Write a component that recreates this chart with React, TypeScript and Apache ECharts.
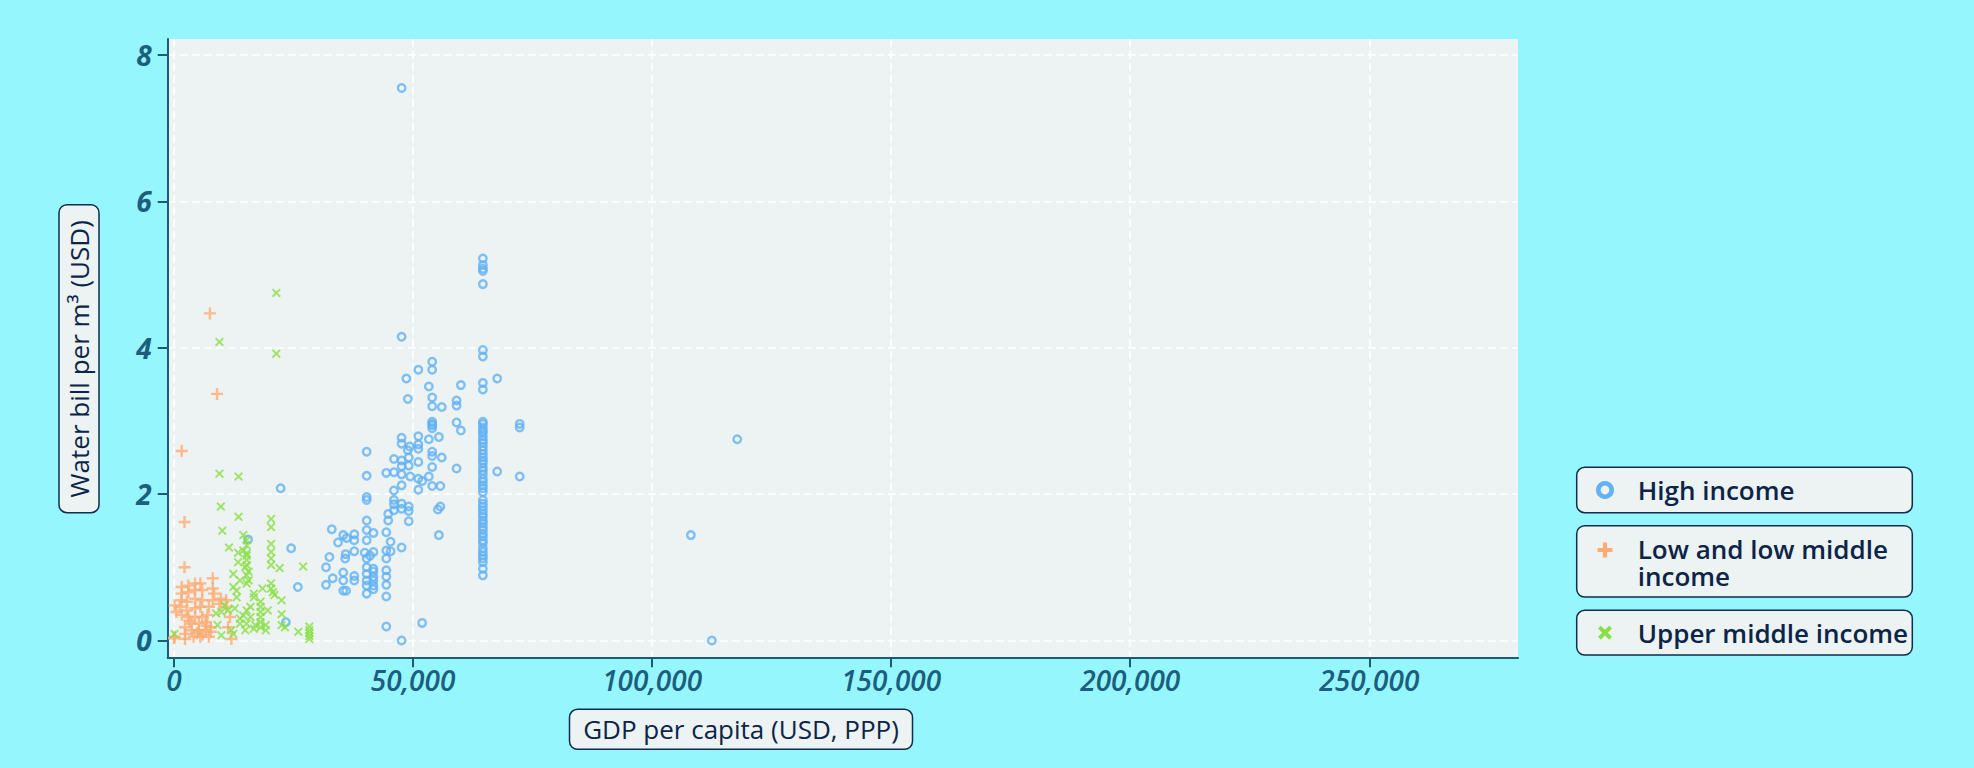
import React, { useEffect, useRef } from 'react';
import * as echarts from 'echarts';

// ---------- data ----------
const seriesNames = ['High income', 'Low and low middle income', 'Upper middle income'];
const legendLabels = ['High income', 'Low and low middle\nincome', 'Upper middle income'];
const xTicks = [0, 50000, 100000, 150000, 200000, 250000];
const yTicks = [0, 2, 4, 6, 8];
const xTitle = 'GDP per capita (USD, PPP)';
const yTitle = 'Water bill per m³ (USD)';

// [GDP per capita (USD, PPP), water bill per m³ (USD)]
const highIncome: [number, number][] = [
  [47600, 7.55], [64600, 5.22], [64600, 5.13], [64600, 5.08], [64600, 5.05], [64600, 4.87], [47600, 4.15],
  [64600, 3.97], [64600, 3.88], [54000, 3.81], [51100, 3.7], [54000, 3.7], [48600, 3.58], [67600, 3.58],
  [53300, 3.47], [60000, 3.49], [64600, 3.52], [64600, 3.43], [48900, 3.3], [54000, 3.32], [59100, 3.28],
  [59100, 3.21], [54000, 3.2], [56000, 3.19],
  [54000, 2.99], [54000, 2.96], [54000, 2.94], [54000, 2.9], [59100, 2.98], [60000, 2.87], [72300, 2.96], [72300, 2.91],
  [47600, 2.77], [47600, 2.69], [51100, 2.79], [55400, 2.78], [53300, 2.75], [49300, 2.65], [51100, 2.68],
  [51100, 2.62], [48900, 2.6], [40300, 2.58], [54000, 2.58], [54000, 2.52], [56000, 2.5], [46000, 2.48],
  [47600, 2.46], [49100, 2.5], [51100, 2.44], [47600, 2.38], [49100, 2.39], [54000, 2.37], [59100, 2.35],
  [67600, 2.31], [44400, 2.29], [46000, 2.3], [47600, 2.27], [49400, 2.24], [51100, 2.21], [40300, 2.25],
  [53300, 2.24], [51900, 2.18], [72300, 2.24], [55700, 2.11], [54000, 2.11], [47600, 2.12], [51100, 2.06],
  [46000, 2.05], [22300, 2.08],
  [40300, 1.96], [40300, 1.92], [46000, 1.92], [46000, 1.86], [47600, 1.87], [49100, 1.83], [49100, 1.77],
  [47600, 1.8], [46000, 1.78], [55700, 1.83], [55200, 1.79], [44800, 1.73], [40300, 1.64], [44800, 1.64], [49100, 1.63],
  [33000, 1.52], [35400, 1.44], [37700, 1.45], [40300, 1.51], [41700, 1.47], [44400, 1.48], [34300, 1.34],
  [36100, 1.4], [37700, 1.37], [40300, 1.37], [45300, 1.35], [55400, 1.44], [24500, 1.26], [37700, 1.22],
  [47600, 1.27], [35900, 1.18], [39900, 1.2], [41700, 1.21], [44400, 1.23], [45300, 1.22], [32500, 1.14],
  [35800, 1.12], [40300, 1.12], [41000, 1.16], [44400, 1.12],
  [31800, 1.0], [40300, 1.0], [41700, 0.98], [41700, 0.94], [44400, 0.96], [35400, 0.93], [33200, 0.85],
  [35400, 0.82], [37700, 0.88], [37700, 0.82], [40300, 0.91], [40300, 0.82], [41700, 0.87], [41700, 0.82],
  [44400, 0.87], [41700, 0.75], [41700, 0.7], [31800, 0.76], [35400, 0.68], [36000, 0.68], [40300, 0.75],
  [40300, 0.64], [44400, 0.76], [44400, 0.6], [25900, 0.73], [15500, 1.38], [23400, 0.25], [44400, 0.19],
  [51900, 0.24], [47600, 0.0],
  [108100, 1.44], [112500, 0.0], [117800, 2.75],
  [64600, 2.99], [64600, 2.96], [64600, 2.91], [64600, 2.87], [64600, 2.84], [64600, 2.79], [64600, 2.74],
  [64600, 2.7], [64600, 2.65], [64600, 2.6], [64600, 2.55], [64600, 2.5], [64600, 2.46], [64600, 2.42],
  [64600, 2.36], [64600, 2.32], [64600, 2.27], [64600, 2.21], [64600, 2.17], [64600, 2.12], [64600, 2.08],
  [64600, 2.03], [64600, 1.92], [64600, 1.87], [64600, 1.83], [64600, 1.78], [64600, 1.73], [64600, 1.69],
  [64600, 1.64], [64600, 1.6], [64600, 1.55], [64600, 1.51], [64600, 1.46], [64600, 1.42], [64600, 1.37],
  [64600, 1.33], [64600, 1.26], [64600, 1.21], [64600, 1.16], [64600, 1.12], [64600, 1.07], [64600, 0.98],
  [64600, 0.89],
];

const lowIncome: [number, number][] = [
  [7500, 4.47], [9000, 3.37], [1600, 2.59], [2200, 1.62], [2200, 1.0], [8100, 0.85],
  [1600, 0.73], [3000, 0.75], [4400, 0.78], [5500, 0.78], [1600, 0.64], [3000, 0.66], [4400, 0.69],
  [5900, 0.69], [8100, 0.71], [8400, 0.64], [9800, 0.57], [10900, 0.55], [1600, 0.55], [2700, 0.53],
  [4400, 0.57], [5900, 0.55], [8100, 0.55], [9500, 0.5], [10900, 0.46], [130, 0.48], [1200, 0.46],
  [2700, 0.41], [4400, 0.44], [5500, 0.46], [7300, 0.46], [500, 0.39], [1600, 0.35], [3000, 0.32],
  [4400, 0.32], [5900, 0.32], [7000, 0.35], [11700, 0.32], [3700, 0.23], [5200, 0.23], [6600, 0.25],
  [7700, 0.18], [2300, 0.18], [3700, 0.14], [5200, 0.14], [6600, 0.14], [7700, 0.12], [2300, 0.09],
  [4100, 0.05], [5500, 0.05], [7300, 0.05], [2300, 0.02], [130, 0.05], [11300, 0.18], [12000, 0.02],
  [0, 0.03], [4800, 0.1], [6000, 0.08], [6800, 0.2], [3200, 0.27],
];

const upperMiddle: [number, number][] = [
  [21400, 4.75], [9500, 4.08], [21400, 3.92], [9500, 2.28], [13500, 2.24], [9800, 1.83], [13500, 1.69],
  [10100, 1.5], [20300, 1.66], [20300, 1.55], [11500, 1.27], [14500, 1.44], [15200, 1.37], [15200, 1.3],
  [20300, 1.32], [20300, 1.21], [20300, 1.12], [20300, 1.03], [22100, 0.99], [27000, 1.01], [14500, 1.23],
  [13400, 1.2], [15200, 1.19], [15200, 1.16], [15200, 1.1], [13400, 1.07], [15200, 1.03], [14900, 1.0],
  [15600, 0.94], [15200, 0.89], [12400, 0.91], [15600, 0.82], [13800, 0.82], [15200, 0.78], [12400, 0.73],
  [18500, 0.71], [20300, 0.78], [20300, 0.71], [20700, 0.66], [21000, 0.62], [13100, 0.68], [13100, 0.59],
  [16700, 0.64], [16700, 0.59], [22500, 0.55], [18100, 0.53], [18100, 0.46], [18100, 0.39], [18100, 0.32],
  [18100, 0.25], [18100, 0.18], [16000, 0.46], [15200, 0.41], [14500, 0.34], [16000, 0.32], [13800, 0.3],
  [19600, 0.41], [22500, 0.36], [22500, 0.21], [23200, 0.18], [16700, 0.16], [14900, 0.14], [19200, 0.14],
  [26000, 0.12], [28300, 0.19], [28300, 0.14], [28300, 0.1], [28300, 0.06], [28300, 0.02], [10600, 0.48],
  [9900, 0.39], [8800, 0.37], [11300, 0.41], [12700, 0.44], [13800, 0.23], [12000, 0.14], [12400, 0.09],
  [9100, 0.21], [9900, 0.07], [100, 0.09], [19200, 0.21], [17000, 0.21], [15200, 0.23],
];

// ---------- styles ----------
const BG = '#96F6FE';
const PLOT_BG = '#EDF2F2';
const AXIS = '#1A5C78';
const LABEL = '#1B5E7E';
const NAVY = '#0B2548';
const BOX_BORDER = '#0F2D4D';
const BLUE = '#62B2F4';
const ORANGE = '#FFAB73';
const GREEN = '#88E046';
const FONT = 'Open Sans';

const PLUS = 'path://M4,0H6V4H10V6H6V10H4V6H0V4H4Z';
const CROSS = 'path://M1.5,0L5,3.5L8.5,0L10,1.5L6.5,5L10,8.5L8.5,10L5,6.5L1.5,10L0,8.5L3.5,5L0,1.5Z';

// legend icon outlines (centred on 0)
const plusPts = (s: number, t: number) => {
  const a = s / 2, b = t / 2;
  return [[-b, -a], [b, -a], [b, -b], [a, -b], [a, b], [b, b], [b, a], [-b, a], [-b, b], [-a, b], [-a, -b], [-b, -b]];
};
const crossPts = (s: number, t: number) => {
  const a = s / 2, d = t / Math.SQRT2;
  return [[-a + d, -a], [0, -d], [a - d, -a], [a, -a + d], [d, 0], [a, a - d], [a - d, a], [0, d], [-a + d, a], [-a, a - d], [-d, 0], [-a, -a + d]];
};

export default function App() {
  const ref = useRef<HTMLDivElement>(null);

  useEffect(() => {
    if (!ref.current) return;
    const chart = echarts.init(ref.current, undefined, { renderer: 'svg' });

    const boxRect = (x: number, y: number, w: number, h: number) => ({
      type: 'rect',
      z: 0,
      shape: { x, y, width: w, height: h, r: 8 },
      style: { fill: PLOT_BG, stroke: BOX_BORDER, lineWidth: 1.5 },
    });

    const titleStyle = {
      fontSize: 26,
      fontFamily: FONT,
      fontWeight: 500,
      fill: NAVY,
      align: 'center',
      verticalAlign: 'middle',
      textAlign: 'center',
      textVerticalAlign: 'middle',
    };

    const LINE_H = 26.5;
    const legendText = (x: number, y: number, text: string) => ({
      type: 'text',
      z: 1,
      x,
      y,
      style: {
        text,
        fontSize: 26,
        lineHeight: LINE_H,
        fontFamily: FONT,
        fontWeight: 600,
        fill: NAVY,
        align: 'left',
        verticalAlign: 'top',
        textAlign: 'left',
        textVerticalAlign: 'top',
      },
    });

    const ICON_X = 1605;
    const TEXT_X = 1637.7;

    chart.setOption({
      animation: false,
      backgroundColor: BG,
      grid: {
        show: true,
        left: 167.7,
        top: 39,
        right: 1974 - 1518,
        bottom: 768 - 657.3,
        backgroundColor: PLOT_BG,
        borderWidth: 0,
        containLabel: false,
      },
      xAxis: {
        type: 'value',
        min: -1320,
        max: 281100,
        axisLine: { show: true, onZero: false, lineStyle: { color: AXIS, width: 2 } },
        axisTick: { show: true, length: 10, customValues: xTicks, lineStyle: { color: AXIS, width: 2 } },
        axisLabel: {
          customValues: xTicks,
          formatter: (v: number) => Number(v).toLocaleString('en-US'),
          margin: 9,
          fontSize: 28,
          fontStyle: 'italic',
          fontWeight: 600,
          fontFamily: FONT,
          color: LABEL,
        },
        splitLine: { show: true, lineStyle: { color: '#FFFFFF', type: [8, 4], width: 1.5 } },
      },
      yAxis: {
        type: 'value',
        min: -0.23,
        max: 8.22,
        axisLine: { show: true, onZero: false, lineStyle: { color: AXIS, width: 2 } },
        axisTick: { show: true, length: 10, customValues: yTicks, lineStyle: { color: AXIS, width: 2 } },
        axisLabel: {
          customValues: yTicks,
          formatter: (v: number) => String(v),
          margin: 16,
          fontSize: 28,
          fontStyle: 'italic',
          fontWeight: 'bold',
          fontFamily: FONT,
          color: LABEL,
        },
        splitLine: { show: true, lineStyle: { color: '#FFFFFF', type: [8, 4], width: 1.5 } },
      },
      graphic: [
        boxRect(59, 204.7, 40, 308),
        { type: 'text', z: 1, x: 79, y: 358.8, rotation: Math.PI / 2, style: { ...titleStyle, text: yTitle } },
        boxRect(569.5, 709.3, 343, 40),
        { type: 'text', z: 1, x: 741, y: 729.3, style: { ...titleStyle, text: xTitle } },
        // legend boxes
        boxRect(1576.7, 467.3, 335.6, 45.4),
        boxRect(1576.7, 525.7, 335.6, 71.3),
        boxRect(1576.7, 610.3, 335.6, 44.7),
        // legend icons
        {
          type: 'circle', z: 1, shape: { cx: ICON_X, cy: 490, r: 6.7 },
          style: { fill: 'none', stroke: BLUE, lineWidth: 4.6 },
        },
        {
          type: 'polygon', z: 1, x: ICON_X, y: 550, shape: { points: plusPts(15, 4.2) },
          style: { fill: ORANGE },
        },
        {
          type: 'polygon', z: 1, x: ICON_X, y: 632.7, shape: { points: crossPts(14, 4) },
          style: { fill: GREEN },
        },
        // legend texts
        legendText(TEXT_X, 490 - LINE_H / 2, legendLabels[0]),
        legendText(TEXT_X, 549 - LINE_H / 2, legendLabels[1]),
        legendText(TEXT_X, 632.7 - LINE_H / 2, legendLabels[2]),
      ],
      series: [
        {
          name: seriesNames[0],
          type: 'scatter',
          data: highIncome,
          symbol: 'circle',
          symbolSize: 7.5,
          itemStyle: { color: 'rgba(0,0,0,0)', borderColor: BLUE, borderWidth: 2.4 },
        },
        {
          name: seriesNames[1],
          type: 'scatter',
          data: lowIncome,
          symbol: PLUS,
          symbolSize: 12,
          itemStyle: { color: ORANGE },
        },
        {
          name: seriesNames[2],
          type: 'scatter',
          data: upperMiddle,
          symbol: CROSS,
          symbolSize: 9,
          itemStyle: { color: GREEN },
        },
      ],
    });

    return () => chart.dispose();
  }, []);

  return (
    <div
      ref={ref}
      style={{ position: 'fixed', left: 0, top: 0, width: 1974, height: 768 }}
    />
  );
}
